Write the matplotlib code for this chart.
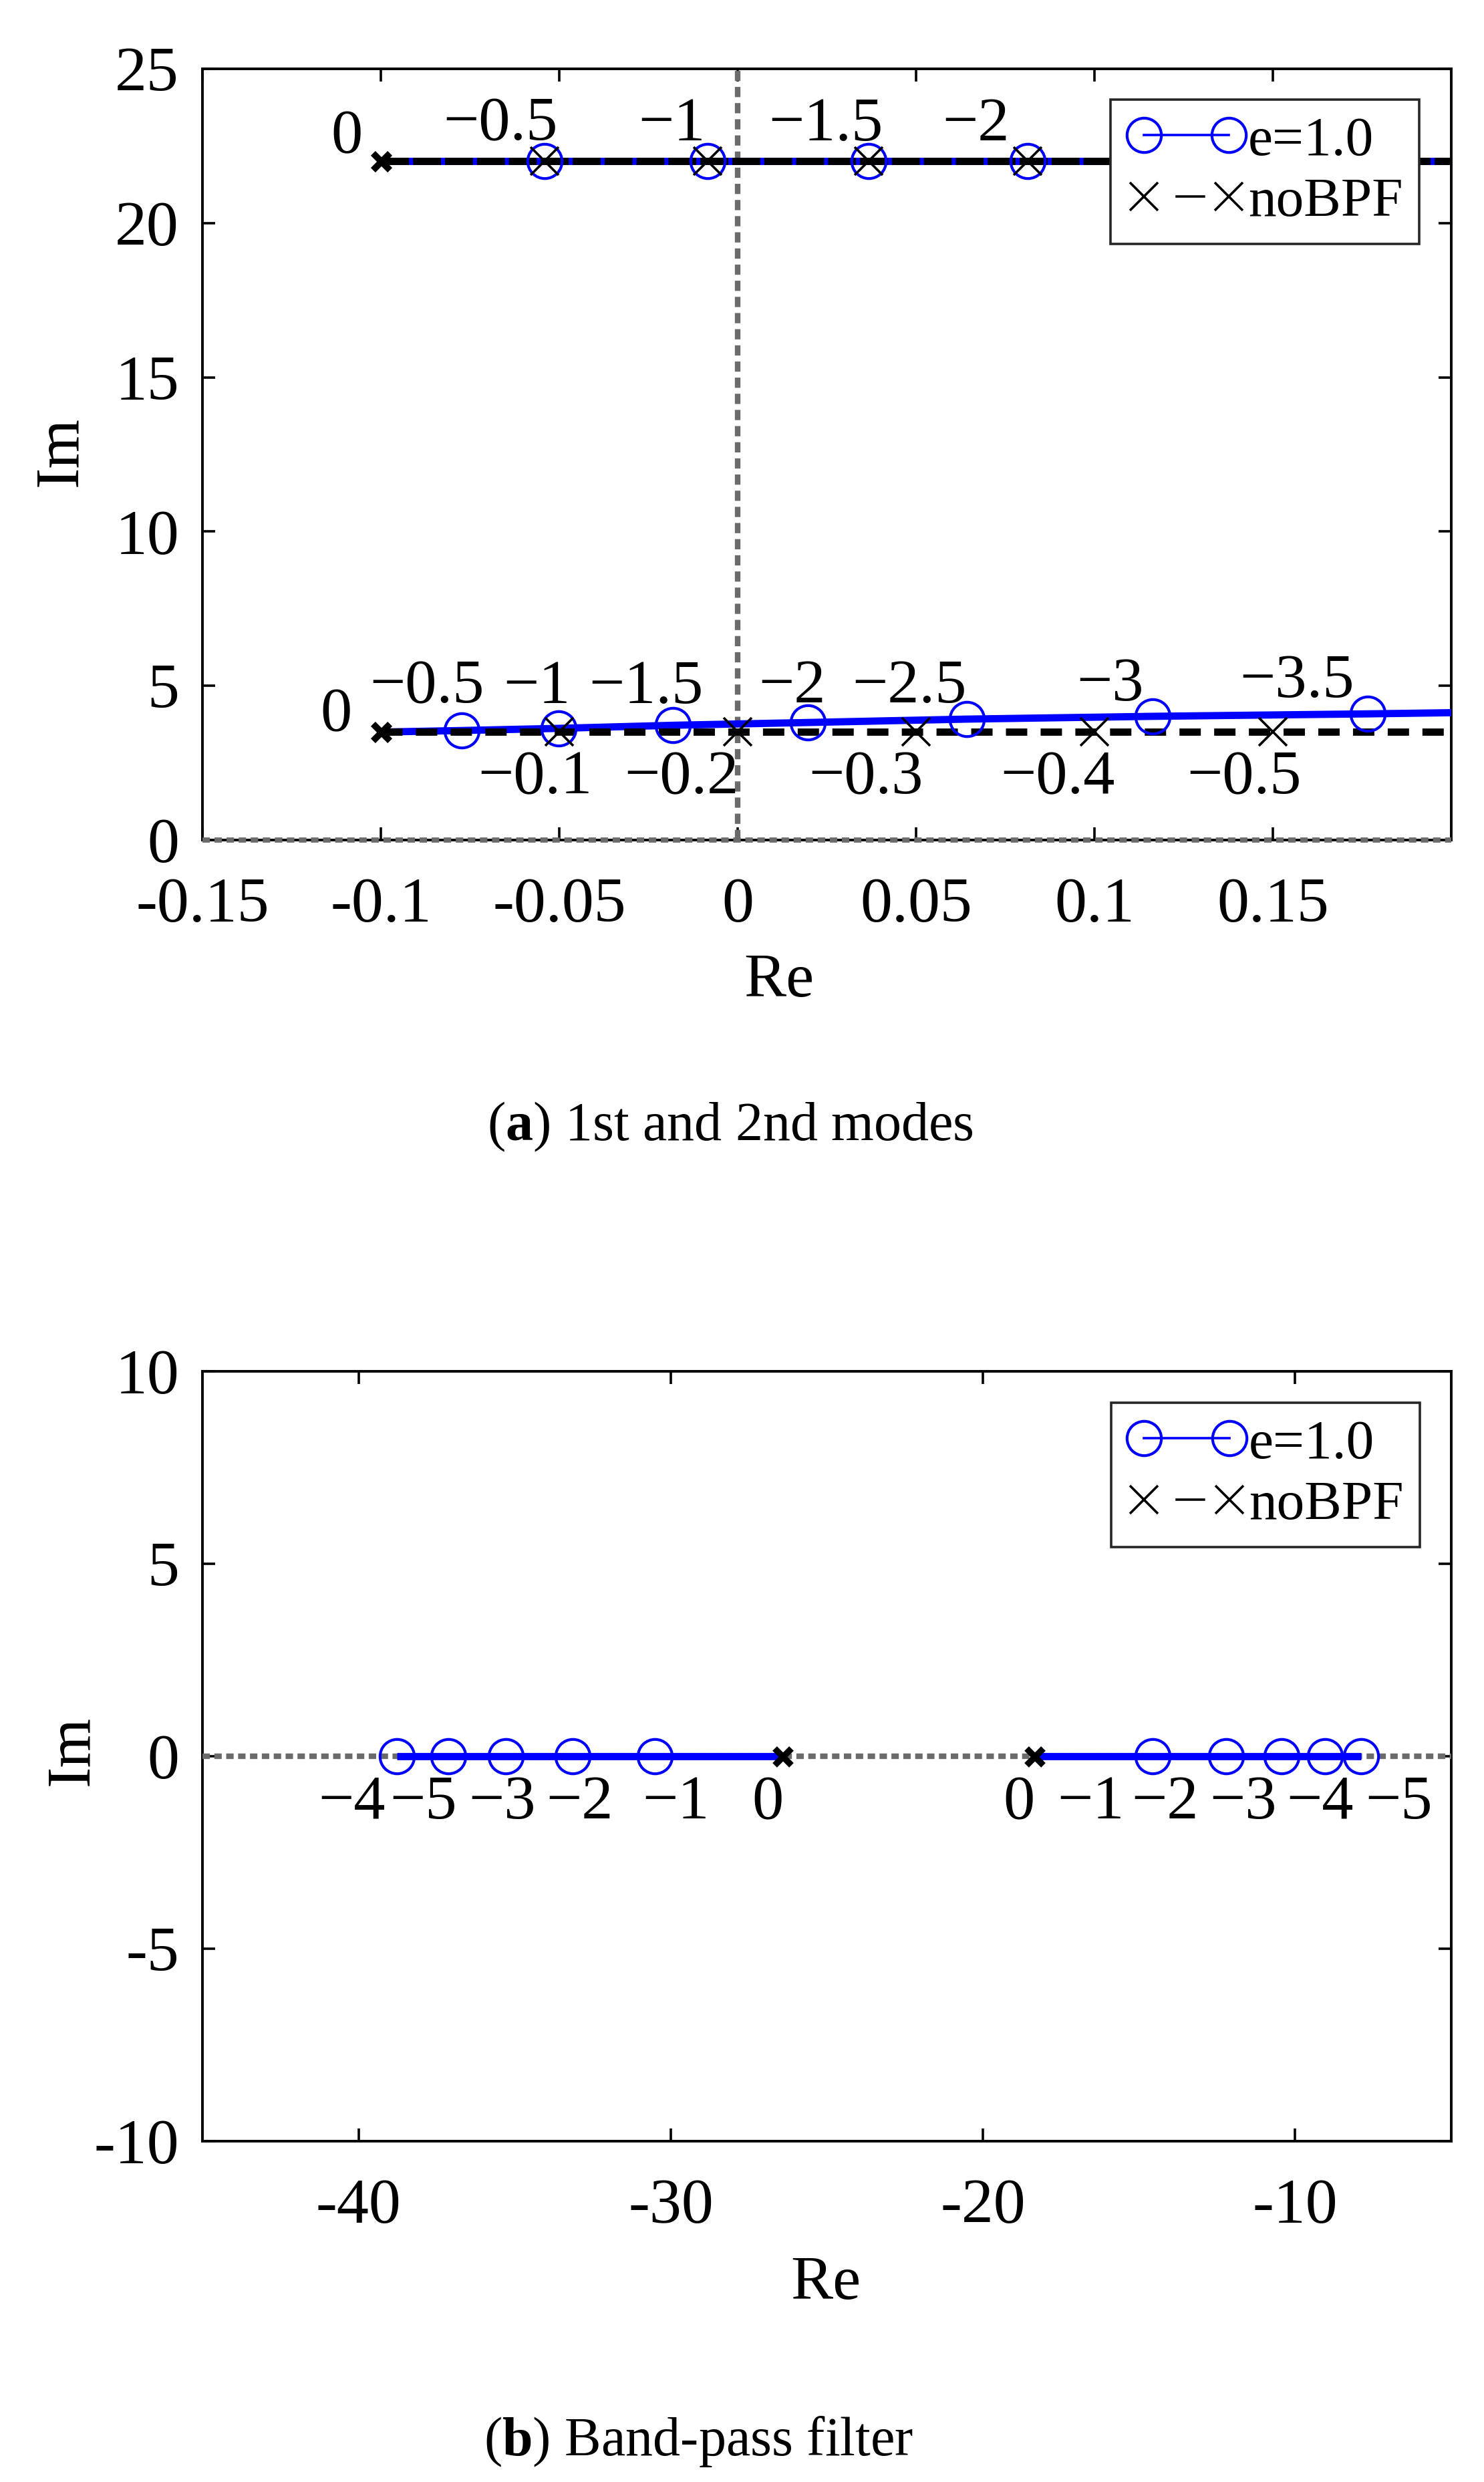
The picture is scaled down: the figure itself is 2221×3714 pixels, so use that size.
import matplotlib
matplotlib.use("Agg")
import matplotlib.pyplot as plt
from matplotlib.lines import Line2D

# ---------------- (a) 1st and 2nd modes ----------------
a_xticks = [-0.15, -0.1, -0.05, 0.0, 0.05, 0.1, 0.15]
a_xticklabels = ["-0.15", "-0.1", "-0.05", "0", "0.05", "0.1", "0.15"]
a_yticks = [0, 5, 10, 15, 20, 25]
a_yticklabels = ["0", "5", "10", "15", "20", "25"]

# 2nd mode (Im ~ 22)
mode2_e10_re = [-0.1, -0.0541, -0.0085, 0.0367, 0.0813, 0.126, 0.171, 0.216]
mode2_e10_im = [22.0, 22.0, 22.0, 22.0, 22.0, 22.0, 22.0, 22.0]
mode2_nobpf_re = [-0.1, -0.0541, -0.0085, 0.0367, 0.0813, 0.126, 0.171, 0.216]
mode2_nobpf_im = [22.0, 22.0, 22.0, 22.0, 22.0, 22.0, 22.0, 22.0]
mode2_labels = ["0", "−0.5", "−1", "−1.5", "−2"]
mode2_label_re = [-0.1096, -0.0665, -0.0184, 0.0248, 0.0667]
mode2_label_im = [22.99, 23.39, 23.39, 23.39, 23.39]

# 1st mode (Im ~ 3.5)
mode1_e10_re = [-0.1, -0.0773, -0.0502, -0.0181, 0.0197, 0.0642, 0.1163, 0.1766, 0.245]
mode1_e10_im = [3.50, 3.55, 3.62, 3.72, 3.81, 3.92, 4.01, 4.09, 4.20]
mode1_e10_labels = ["0", "−0.5", "−1", "−1.5", "−2", "−2.5", "−3", "−3.5"]
mode1_e10_label_re = [-0.1126, -0.0870, -0.0563, -0.0257, 0.0153, 0.0482, 0.1045, 0.1568]
mode1_e10_label_im = [4.25, 5.15, 5.15, 5.15, 5.17, 5.17, 5.24, 5.33]

mode1_nobpf_re = [-0.1, -0.05, 0.0, 0.05, 0.1, 0.15, 0.26]
mode1_nobpf_im = [3.5, 3.5, 3.5, 3.5, 3.5, 3.5, 3.5]
mode1_nobpf_labels = ["−0.1", "−0.2", "−0.3", "−0.4", "−0.5"]
mode1_nobpf_label_re = [-0.0567, -0.0158, 0.0359, 0.0896, 0.1420]
mode1_nobpf_label_im = [2.21, 2.21, 2.21, 2.21, 2.21]

# ---------------- (b) Band-pass filter ----------------
b_xticks = [-40, -30, -20, -10]
b_xticklabels = ["-40", "-30", "-20", "-10"]
b_yticks = [-10, -5, 0, 5, 10]
b_yticklabels = ["-10", "-5", "0", "5", "10"]

bpf_left_re = [-26.42, -30.51, -33.15, -35.29, -37.13, -38.78]
bpf_left_im = [0, 0, 0, 0, 0, 0]
bpf_right_re = [-18.35, -14.56, -12.21, -10.43, -9.04, -7.88]
bpf_right_im = [0, 0, 0, 0, 0, 0]
bpf_left_labels = ["0", "−1", "−2", "−3", "−4", "−5"]
bpf_left_label_re = [-26.89, -29.83, -32.91, -35.40, -40.21, -37.92]
bpf_right_labels = ["0", "−1", "−2", "−3", "−4", "−5"]
bpf_right_label_re = [-18.84, -16.55, -14.17, -11.67, -9.21, -6.68]
bpf_label_im = [-1.05, -1.05, -1.05, -1.05, -1.05, -1.05]

legend_labels = ["e=1.0", "noBPF"]

# ---------------- style ----------------
plt.rcParams['font.family'] = ['Liberation Serif', 'DejaVu Serif']
plt.rcParams['mathtext.fontset'] = 'custom'
plt.rcParams['mathtext.rm'] = 'Liberation Serif'
plt.rcParams['mathtext.bf'] = 'Liberation Serif:bold'
plt.rcParams['axes.unicode_minus'] = False
plt.rcParams['lines.scale_dashes'] = False

W, H = 2221, 3714
fig = plt.figure(figsize=(W / 200, H / 200), dpi=200)
ax1 = fig.add_axes([303 / W, 1 - 1257 / H, 1869 / W, 1154 / H])
ax2 = fig.add_axes([303 / W, 1 - 3204 / H, 1869 / W, 1152 / H])

BLUE = '#0000ff'
GRAY = '#6b6b6b'
TICK_FS = 34.5
LAB_FS = 34
LEG_FS = 30
LW = 3.9
CIRC_MS = 18.5
CIRC_MEW = 1.5
X_MS = 15
X_MEW = 1.3
BX_MS = 9
BX_MEW = 3.4


def style_axes(ax, xlim, ylim, xt, xtl, yt, ytl):
    ax.set_xlim(*xlim)
    ax.set_ylim(*ylim)
    ax.set_xticks(xt)
    ax.set_xticklabels(xtl)
    ax.set_yticks(yt)
    ax.set_yticklabels(ytl)
    ax.tick_params(direction='in', length=7, width=1.3, top=True, right=True,
                   labelsize=TICK_FS)
    ax.tick_params(axis='x', pad=20)
    ax.tick_params(axis='y', pad=12.6)
    for s in ax.spines.values():
        s.set_linewidth(1.4)


def add_legend(ax, anchor):
    h_e10 = Line2D([], [], color=BLUE, lw=1.3, marker='o', ms=CIRC_MS,
                   mfc='none', mec=BLUE, mew=CIRC_MEW)
    h_nob = Line2D([], [], color='k', lw=1.3, ls=(15, (16, 16)), marker='x',
                   ms=X_MS, mec='k', mew=X_MEW)
    leg = ax.legend([h_e10, h_nob], legend_labels, loc='upper right',
                    bbox_to_anchor=anchor, bbox_transform=ax.transAxes,
                    borderaxespad=0, fancybox=False, edgecolor='#262626',
                    framealpha=1, fontsize=LEG_FS, handlelength=2.13,
                    handletextpad=0.05, numpoints=2, labelspacing=0.18,
                    borderpad=0.29)
    leg.get_frame().set_linewidth(1.3)
    leg.set_zorder(10)


def put_labels(ax, labels, xs, ys):
    for t, x, y in zip(labels, xs, ys):
        ax.text(x, y, t, ha='center', va='center_baseline', fontsize=LAB_FS,
                zorder=4)


def draw_branch(ax, re_, im_, color, ls, markers):
    ax.plot(re_, im_, color=color, lw=LW, ls=ls, zorder=3.1 if color == BLUE else 3.2,
            solid_capstyle='butt', dash_capstyle='butt')
    if markers == 'o':
        ax.plot(re_[1:], im_[1:], ls='none', marker='o', ms=CIRC_MS, mfc='none',
                mec=BLUE, mew=CIRC_MEW, zorder=3.3)
    else:
        ax.plot(re_[1:], im_[1:], ls='none', marker='x', ms=X_MS, mec='k',
                mew=X_MEW, zorder=3.4)
    ax.plot(re_[:1], im_[:1], ls='none', marker='x', ms=BX_MS, mec='k',
            mew=BX_MEW, zorder=3.5)


# ---------------- panel (a) ----------------
style_axes(ax1, (-0.15, 0.2), (0, 25), a_xticks, a_xticklabels, a_yticks, a_yticklabels)
ax1.axhline(0, color=GRAY, lw=2.8, ls=(0, (4, 2.5)), zorder=2.6, clip_on=False)
ax1.axvline(0, color=GRAY, lw=3.0, ls=(0, (5.5, 3.2)), zorder=2.6, clip_on=False)

draw_branch(ax1, mode2_e10_re, mode2_e10_im, BLUE, '-', 'o')
draw_branch(ax1, mode2_nobpf_re, mode2_nobpf_im, 'k', (0, (15, 2.2)), 'x')
draw_branch(ax1, mode1_e10_re, mode1_e10_im, BLUE, '-', 'o')
draw_branch(ax1, mode1_nobpf_re, mode1_nobpf_im, 'k', (0, (11.5, 7.2)), 'x')

put_labels(ax1, mode2_labels, mode2_label_re, mode2_label_im)
put_labels(ax1, mode1_e10_labels, mode1_e10_label_re, mode1_e10_label_im)
put_labels(ax1, mode1_nobpf_labels, mode1_nobpf_label_re, mode1_nobpf_label_im)

ax1.set_xlabel("Re", fontsize=LAB_FS)
ax1.xaxis.set_label_coords(0.4617, -0.183)
ax1.xaxis.label.set_va('center')
ax1.set_ylabel("Im", fontsize=LAB_FS)
ax1.yaxis.set_label_coords(-0.113, 0.504)
ax1.yaxis.label.set_va('center')
add_legend(ax1, (0.9743, 0.9601))

# ---------------- panel (b) ----------------
style_axes(ax2, (-45, -5), (-10, 10), b_xticks, b_xticklabels, b_yticks, b_yticklabels)
ax2.axhline(0, color=GRAY, lw=3.0, ls=(0, (4, 2.4)), zorder=2.6)

draw_branch(ax2, bpf_left_re, bpf_left_im, BLUE, '-', 'o')
draw_branch(ax2, bpf_right_re, bpf_right_im, BLUE, '-', 'o')

put_labels(ax2, bpf_left_labels, bpf_left_label_re, bpf_label_im)
put_labels(ax2, bpf_right_labels, bpf_right_label_re, bpf_label_im)

ax2.set_xlabel("Re", fontsize=LAB_FS)
ax2.xaxis.set_label_coords(0.4992, -0.185)
ax2.xaxis.label.set_va('center')
ax2.set_ylabel("Im", fontsize=LAB_FS)
ax2.yaxis.set_label_coords(-0.104, 0.507)
ax2.yaxis.label.set_va('center')
add_legend(ax2, (0.9748, 0.9592))

# ---------------- captions ----------------
fig.text(1093 / W, 1 - 1686 / H, r"($\mathbf{a}$) 1st and 2nd modes",
         ha='center', va='center', fontsize=29.5)
fig.text(1046 / W, 1 - 3653 / H, r"($\mathbf{b}$) Band-pass filter",
         ha='center', va='center', fontsize=29.5)

fig.savefig("out.png", dpi=200, facecolor='white')
